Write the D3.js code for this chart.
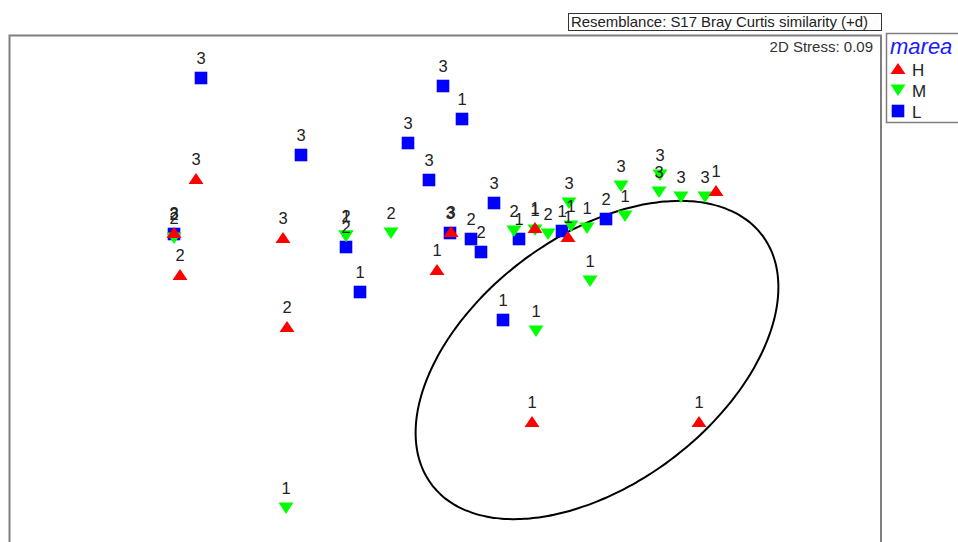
<!DOCTYPE html>
<html>
<head>
<meta charset="utf-8">
<script src="https://cdn.jsdelivr.net/npm/d3@7"></script>
<style>
  body { margin: 0; background: #ffffff; }
  svg { display: block; font-family: "Liberation Sans", Arial, sans-serif; }
</style>
</head>
<body>
<svg id="chart" width="958" height="542"></svg>
<script>
// nMDS ordination, factor "marea" (H, M, L); each sample is labelled with its site number
const groups = ["H", "M", "L"];
const groupColors = ["#ff0000", "#00ff00", "#0000ff"];

// [MDS1, MDS2, label]
const pointsH = [
  [-1.245, 0.555, "3"], [-1.355, 0.285, "3"], [-1.325, 0.075, "2"],
  [-0.81, 0.26, "3"], [-0.79, -0.185, "2"], [0.03, 0.29, "3"],
  [-0.04, 0.10, "1"], [0.45, 0.31, "1"], [0.615, 0.265, "1"],
  [1.355, 0.495, "1"], [0.435, -0.66, "1"], [1.27, -0.66, "1"]
];
const pointsM = [
  [-1.355, 0.26, "2"], [-0.495, 0.27, "2"], [-0.495, 0.27, "1"],
  [-0.27, 0.285, "2"], [0.345, 0.295, "2"], [0.45, 0.30, "1"],
  [0.515, 0.28, "2"], [0.62, 0.435, "3"], [0.63, 0.32, "1"],
  [0.71, 0.31, "1"], [0.725, 0.045, "1"], [0.88, 0.52, "3"],
  [0.90, 0.37, "1"], [1.075, 0.575, "3"], [1.07, 0.49, "3"],
  [1.18, 0.465, "3"], [1.30, 0.465, "3"], [0.455, -0.205, "1"],
  [-0.795, -1.09, "1"]
];
const pointsL = [
  [-1.22, 1.06, "3"], [-0.72, 0.675, "3"], [-0.01, 1.02, "3"],
  [0.085, 0.855, "1"], [-0.185, 0.735, "3"], [-0.08, 0.55, "3"],
  [0.245, 0.435, "3"], [-1.355, 0.28, "2"], [-0.495, 0.215, "2"],
  [-0.425, -0.01, "1"], [0.025, 0.285, "3"], [0.13, 0.255, "2"],
  [0.18, 0.19, "2"], [0.37, 0.255, "1"], [0.585, 0.295, "1"],
  [0.805, 0.355, "2"], [0.29, -0.15, "1"]
];

// cluster ellipse: centre, semi-axes, rotation (degrees, data space)
const ellipseCenter = [0.76, -0.35];
const ellipseRadii = [1.035, 0.62];
const ellipseAngle = 37;

const titleText = "Resemblance: S17 Bray Curtis similarity (+d)";
const stressText = "2D Stress: 0.09";
const legendTitle = "marea";

const svg = d3.select("#chart");

const x = d3.scaleLinear().domain([-2.2, 2.2]).range([5, 885]);
const y = d3.scaleLinear().domain([-1.26, 1.26]).range([542, 38]);

// marker shapes
const upTri = "M0,-6L7.5,5L-7.5,5Z";
const downTri = "M0,6L7.5,-5.5L-7.5,-5.5Z";
const square = "M-6.3,-6.3H6.3V6.3H-6.3Z";
const shapes = { H: upTri, M: downTri, L: square };

// plot frame
svg.append("rect")
  .attr("x", 9.5).attr("y", 35.5)
  .attr("width", 871.5).attr("height", 530)
  .attr("fill", "none").attr("stroke", "#7f7f7f").attr("stroke-width", 2);

// title box
const title = svg.append("g");
title.append("rect")
  .attr("x", 568.5).attr("y", 13.5).attr("width", 313).attr("height", 17)
  .attr("fill", "#fff").attr("stroke", "#333").attr("stroke-width", 1);
title.append("text")
  .attr("x", 571).attr("y", 26.5)
  .attr("font-size", 15).attr("fill", "#222")
  .attr("textLength", 297).attr("lengthAdjust", "spacingAndGlyphs")
  .text(titleText);

svg.append("text")
  .attr("x", 873).attr("y", 51.5)
  .attr("text-anchor", "end")
  .attr("font-size", 15).attr("fill", "#333")
  .text(stressText);

// ellipse, traced through the scales
const t = d3.range(0, 360, 2).map(d => d * Math.PI / 180);
const th = ellipseAngle * Math.PI / 180;
const ellPts = t.map(a => {
  const ex = ellipseRadii[0] * Math.cos(a), ey = ellipseRadii[1] * Math.sin(a);
  return [
    x(ellipseCenter[0] + ex * Math.cos(th) - ey * Math.sin(th)),
    y(ellipseCenter[1] + ex * Math.sin(th) + ey * Math.cos(th))
  ];
});
svg.append("path")
  .attr("d", d3.line().curve(d3.curveCardinalClosed)(ellPts))
  .attr("fill", "none").attr("stroke", "#000").attr("stroke-width", 2);

// markers, drawn L, M, H
const layers = [["L", pointsL], ["M", pointsM], ["H", pointsH]];
layers.forEach(([g, pts]) => {
  const col = groupColors[groups.indexOf(g)];
  svg.append("g").selectAll("path").data(pts).join("path")
    .attr("d", shapes[g])
    .attr("transform", d => `translate(${x(d[0])},${y(d[1])})`)
    .attr("fill", col);
});

// sample labels above each marker
layers.forEach(([g, pts]) => {
  svg.append("g").selectAll("text").data(pts).join("text")
    .attr("x", d => x(d[0]))
    .attr("y", d => y(d[1]) - 14)
    .attr("text-anchor", "middle")
    .attr("font-size", 16.5)
    .attr("fill", "#222")
    .text(d => d[2]);
});

// legend
const lg = svg.append("g");
lg.append("rect")
  .attr("x", 886.5).attr("y", 33.5).attr("width", 80).attr("height", 89)
  .attr("fill", "#fff").attr("stroke", "#7f7f7f").attr("stroke-width", 1.5);
lg.append("text")
  .attr("x", 890).attr("y", 54)
  .attr("font-size", 22).attr("font-style", "italic").attr("fill", "#1a1aff")
  .text(legendTitle);
groups.forEach((g, i) => {
  const cy = 69 + i * 21;
  lg.append("path")
    .attr("d", shapes[g])
    .attr("transform", `translate(898,${cy})`)
    .attr("fill", groupColors[i]);
  lg.append("text")
    .attr("x", 912).attr("y", cy + 6.5)
    .attr("font-size", 17).attr("fill", "#222")
    .text(g);
});
</script>
</body>
</html>
